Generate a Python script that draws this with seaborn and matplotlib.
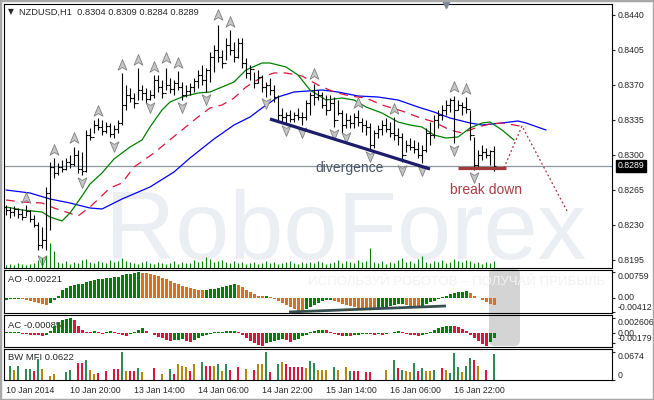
import numpy as np
import matplotlib
matplotlib.use('Agg')
import matplotlib.pyplot as plt
import seaborn as sns
from matplotlib.path import Path
from matplotlib.patches import FancyBboxPatch, Rectangle
from matplotlib.transforms import ScaledTranslation

sns.set_style('white')
plt.rcParams['font.family'] = ['Liberation Sans', 'DejaVu Sans']

# ---------------------------------------------------------------- data
# NZDUSD H1 bars
high = [.8250, .8248, .8249, .8247, .8246, .8250, .8245, .8240, .8233, .8228,
        .8268, .8293, .8297, .8292, .8295, .8297, .8300, .8308, .8305, .8303,
        .8325, .8327, .8335, .8337, .8335, .8333, .8332, .8330, .8335, .8382,
        .8370, .8367, .8362, .8387, .8370, .8367, .8365, .8380, .8380, .8375,
        .8387, .8377, .8375, .8384, .8373, .8370, .8372, .8377, .8385, .8390,
        .8387, .8403, .8410, .8430, .8405, .8417, .8425, .8413, .8417, .8417,
        .8397, .8390, .8383, .8385, .8380, .8373, .8377, .8370, .8360, .8347,
        .8343, .8345, .8343, .8347, .8343, .8355, .8363, .8371, .8365, .8363,
        .8360, .8360, .8358, .8355, .8345, .8342, .8340, .8342, .8345, .8337,
        .8335, .8332, .8325, .8330, .8335, .8337, .8333, .8338, .8327, .8322,
        .8315, .8317, .8315, .8313, .8310, .8327, .8333, .8340, .8345, .8350,
        .8355, .8357, .8359, .8355, .8353, .8358, .8345, .8318, .8305, .8310,
        .8307, .8305, .8309]
low = [.8240, .8237, .8239, .8237, .8235, .8239, .8233, .8228, .8205, .8207,
       .8205, .8225, .8277, .8280, .8283, .8285, .8287, .8289, .8282, .8280,
       .8283, .8315, .8322, .8325, .8320, .8322, .8318, .8317, .8322, .8330,
       .8345, .8353, .8347, .8355, .8355, .8352, .8355, .8357, .8363, .8357,
       .8365, .8362, .8360, .8365, .8355, .8358, .8360, .8363, .8367, .8370,
       .8363, .8373, .8383, .8393, .8387, .8395, .8400, .8393, .8397, .8387,
       .8377, .8375, .8367, .8372, .8363, .8358, .8360, .8353, .8335, .8333,
       .8331, .8333, .8333, .8335, .8330, .8335, .8340, .8350, .8355, .8347,
       .8340, .8345, .8328, .8340, .8322, .8327, .8327, .8327, .8329, .8323,
       .8320, .8305, .8307, .8317, .8320, .8323, .8318, .8315, .8310, .8293,
       .8303, .8305, .8302, .8297, .8292, .8303, .8310, .8317, .8327, .8335,
       .8340, .8343, .8312, .8345, .8340, .8342, .8315, .8285, .8288, .8295,
       .8297, .8290, .8284]
close = [.8245, .8243, .8246, .8241, .8238, .8244, .8236, .8230, .8210, .8215,
         .8262, .8288, .8282, .8288, .8286, .8293, .8291, .8300, .8286, .8284,
         .8320, .8318, .8330, .8328, .8324, .8329, .8321, .8326, .8332, .8350,
         .8360, .8357, .8352, .8365, .8362, .8356, .8360, .8375, .8368, .8362,
         .8370, .8366, .8372, .8368, .8360, .8364, .8368, .8374, .8380, .8375,
         .8385, .8398, .8405, .8398, .8392, .8410, .8405, .8398, .8412, .8392,
         .8382, .8386, .8372, .8378, .8368, .8370, .8365, .8358, .8340, .8338,
         .8340, .8336, .8340, .8338, .8338, .8352, .8360, .8358, .8360, .8350,
         .8345, .8352, .8335, .8342, .8330, .8335, .8332, .8338, .8333, .8330,
         .8328, .8310, .8322, .8326, .8330, .8326, .8322, .8320, .8318, .8300,
         .8310, .8308, .8306, .8300, .8305, .8322, .8320, .8335, .8340, .8345,
         .8350, .8355, .8345, .8350, .8348, .8346, .8320, .8290, .8300, .8303,
         .8300, .8304, .8289]
first_open = .8248

# tick volume (hundreds)
volume = [3, 4, 3, 5, 4, 3, 4, 5, 8, 10,
          12, 25, 17, 6, 5, 7, 4, 6, 5, 8,
          9, 6, 5, 7, 6, 5, 8, 6, 7, 10,
          7, 6, 5, 4, 6, 7, 5, 4, 6, 5,
          4, 5, 7, 4, 6, 5, 5, 8, 6, 7,
          11, 9, 6, 7, 8, 6, 5, 7, 5, 6,
          4, 5, 6, 4, 5, 7, 5, 6, 4, 5,
          6, 7, 5, 4, 6, 5, 6, 5, 7, 6,
          4, 5, 6, 8, 5, 7, 6, 5, 8, 6,
          7, 20, 6, 5, 7, 4, 6, 5, 8, 10,
          6, 7, 5, 9, 12, 6, 5, 7, 6, 8,
          5, 6, 9, 7, 6, 8, 7, 5, 6, 4,
          6, 5, 7]

# Alligator lines (bar index, price), shifted forward as on the chart
lips_idx = [0, 4, 9, 11, 14, 16, 19, 21, 24, 27, 31, 34, 36, 39, 41, 44, 48, 51, 54, 57, 60,
            64, 66, 70, 73, 76, 80, 84, 87, 90, 94, 98, 101, 104, 107, 110, 113, 116, 119, 121,
            124, 127]
lips_val = [.8248, .8245, .8243, .8238, .8234, .8242, .8259, .8271, .8282, .8296, .8308, .8315,
            .8328, .8345, .8353, .8358, .8362, .8363, .8368, .8373, .8385, .8392, .8392, .8388,
            .8380, .8365, .8355, .8357, .8355, .8348, .8342, .8333, .8330, .8328, .8320, .8317,
            .8318, .8327, .8332, .8333, .8325, .8315]
teeth_idx = [0, 4, 9, 12, 18, 21, 26, 29, 32, 37, 40, 44, 48, 51, 54, 57, 60, 64, 67, 70, 74,
             78, 82, 86, 90, 94, 99, 103, 107, 111, 114, 118, 121, 124, 130]
teeth_val = [.8255, .8253, .8252, .8247, .8239, .8248, .8267, .8272, .8288, .8302, .8312, .8325,
             .8338, .8347, .8350, .8357, .8368, .8378, .8382, .8382, .8379, .8370, .8363, .8359,
             .8357, .8350, .8344, .8338, .8333, .8325, .8322, .8328, .8331, .8332, .8328]
jaw_idx = [0, 6, 11, 16, 21, 24, 29, 36, 42, 46, 52, 57, 61, 64, 68, 72, 79, 83, 88, 93, 98,
           103, 107, 111, 116, 119, 124, 128, 130, 135]
jaw_val = [.8265, .8262, .8256, .8252, .8247, .8246, .8256, .8268, .8283, .8297, .8316, .8330,
           .8338, .8347, .8358, .8363, .8365, .8363, .8359, .8358, .8355, .8348, .8343, .8337,
           .8332, .8330, .8332, .8334, .8332, .8325]

# fractals
frac_up_idx = [5, 12, 17, 23, 29, 33, 37, 40, 43, 53, 56, 77, 88, 97, 112, 115]
frac_up_val = [.8257, .8305, .8317, .8344, .8390, .8395, .8388, .8397, .8392, .8440, .8433,
               .8381, .8352, .8346, .8368, .8366]
frac_dn_idx = [9, 19, 27, 36, 44, 50, 65, 70, 74, 82, 85, 91, 99, 104, 112, 117]
frac_dn_val = [.8195, .8273, .8309, .8348, .8348, .8356, .8352, .8325, .8323, .8321, .8318,
               .8299, .8285, .8285, .8305, .8278]
shift_idx = 110

# hand drawn objects
div_idx, div_val = [66, 106], [.8336, .8286]
brk_idx, brk_val = [113, 125], [.8287, .8287]
proj_idx, proj_val = [124.5, 129, 140.25], [.8287, .8329, .8244]
last_price = 0.8289
price_ticks = [0.8195, 0.8230, 0.8265, 0.8300, 0.8335, 0.8370, 0.8405, 0.8440]

# Awesome Oscillator (x1e-3)
ao_milli = [-0.60, -0.44, -0.37, -0.30, -0.44, -0.60, -0.89, -1.18, -1.62, -1.92,
            -2.07, -1.48, -0.59, 0.44, 2.21, 2.95, 3.40, 3.69, 3.99, 4.13,
            4.72, 5.02, 5.31, 5.46, 5.61, 5.76, 5.90, 6.05, 6.20, 6.64,
            6.94, 7.08, 7.23, 7.59, 7.38, 7.23, 6.94, 6.64, 6.35, 5.90,
            5.46, 5.02, 4.43, 3.99, 3.54, 3.10, 2.80, 2.51, 2.36, 2.21,
            2.36, 2.51, 2.66, 2.95, 3.25, 3.54, 3.84, 3.99, 3.69, 3.10,
            2.36, 1.62, 1.03, 0.59, 0.37, 0.44, 0.15, -0.44, -1.03, -1.62,
            -2.21, -2.80, -3.40, -3.90, -4.12, -3.40, -2.66, -2.07, -1.48, -1.03,
            -0.74, -0.59, -0.89, -1.33, -1.77, -2.21, -2.51, -2.80, -2.95, -3.10,
            -3.25, -3.40, -3.54, -3.25, -2.95, -2.66, -2.36, -2.07, -1.92, -1.77,
            -2.07, -2.36, -2.66, -2.80, -2.51, -1.92, -1.33, -0.89, -0.44, 0.15,
            0.59, 1.03, 1.33, 1.62, 1.77, 2.07, 1.48, 0.59, -0.15, -0.70,
            -1.30, -1.80, -2.21]
ao_line_idx, ao_line_val = [70.75, 110], [-0.00422, -0.00245]

# Accelerator Oscillator (x1e-3)
ac_milli = [0.10, 0.12, 0.15, 0.18, -0.10, -0.20, -0.30, -0.35, -0.40, -0.45,
            -0.30, 0.40, 1.20, 1.80, 2.20, 2.50, 2.61, 2.20, 1.30, 0.50,
            0.20, 0.10, 0.30, 0.20, -0.10, 0.10, 0.40, 0.20, -0.20, -0.40,
            -0.60, -0.20, 0.20, 0.50, 0.85, 0.40, 0.00, -0.40, -0.70, -0.90,
            -1.20, -1.40, -1.30, -1.20, -1.10, -1.40, -1.50, -1.20, -0.90, -0.60,
            -0.30, -0.10, 0.10, 0.15, 0.20, 0.30, 0.35, 0.40, 0.10, -0.40,
            -0.90, -1.40, -1.80, -2.10, -2.26, -1.80, -1.60, -1.40, -1.20, -1.10,
            -1.30, -1.50, -1.30, -1.00, -0.60, -0.30, 0.10, 0.35, 0.50, 0.58,
            0.45, 0.20, -0.10, -0.30, -0.50, -0.45, -0.50, -0.40, -0.30, -0.15,
            -0.10, -0.20, -0.30, -0.20, -0.30, -0.20, 0.00, 0.20, 0.30, 0.10,
            -0.10, -0.30, -0.40, -0.50, -0.35, -0.10, 0.20, 0.50, 0.80, 1.00,
            1.20, 1.27, 1.20, 1.00, 0.70, 0.40, -0.30, -0.80, -1.40, -1.90,
            -2.20, -1.60, -0.85]

# Bill Williams MFI and its colour class
mfi = [0.012, 0.034, 0.024, 0.034, 0.038, 0.026, 0.026, 0.022, 0.050, 0.026,
       0.043, 0.010, 0.014, 0.012, 0.019, 0.019, 0.024, 0.038, 0.041, 0.041,
       0.048, 0.024, 0.014, 0.017, 0.019, 0.022, 0.034, 0.026, 0.026, 0.0674,
       0.022, 0.022, 0.022, 0.029, 0.019, 0.026, 0.036, 0.029, 0.022, 0.014,
       0.036, 0.026, 0.014, 0.038, 0.034, 0.031, 0.022, 0.038, 0.031, 0.043,
       0.034, 0.034, 0.034, 0.038, 0.022, 0.038, 0.024, 0.038, 0.031, 0.043,
       0.026, 0.046, 0.024, 0.038, 0.038, 0.0674, 0.019, 0.029, 0.038, 0.043,
       0.038, 0.031, 0.031, 0.031, 0.031, 0.029, 0.046, 0.041, 0.024, 0.024,
       0.024, 0.024, 0.031, 0.024, 0.034, 0.031, 0.022, 0.022, 0.022, 0.043,
       0.019, 0.019, 0.007, 0.019, 0.024, 0.024, 0.036, 0.048, 0.029, 0.024,
       0.022, 0.019, 0.041, 0.022, 0.029, 0.022, 0.022, 0.024, 0.048, 0.029,
       0.024, 0.017, 0.065, 0.031, 0.019, 0.034, 0.053, 0.048, 0.034, 0.038,
       0.024, 0.034, 0.0622]
mfi_kind = list("ugbguggrgb" "ubbuuggurr" "gbbrururrg" "brrgbuurub" "ugrbbbrbug"
                "rrbgbgruru" "burbbgrugb" "rrrrrbggbb" "bugbubgrru" "rruuubugrg"
                "bbgrgbbgur" "bgggbggrbu" "rug")

time_idx = [0, 16, 32, 48, 64, 80, 96, 112]
time_labels = ['10 Jan 2014', '10 Jan 20:00', '13 Jan 14:00', '14 Jan 06:00',
               '14 Jan 22:00', '15 Jan 14:00', '16 Jan 06:00', '16 Jan 22:00']

n = len(close)
assert len(high) == n and len(low) == n and len(volume) == n
assert len(ao_milli) == n and len(ac_milli) == n and len(mfi) == n and len(mfi_kind) == n

# ---------------------------------------------------------------- figure
W, H = 654, 400
fig = plt.figure(figsize=(W / 100, H / 100), dpi=100)
fig.patch.set_facecolor('white')


def panel(top, bottom, left=4, right=612):
    return [left / W, 1 - bottom / H, (right - left) / W, (bottom - top) / H]


ax = fig.add_axes(panel(4, 268))
ax_ao = fig.add_axes(panel(270, 313))
ax_ac = fig.add_axes(panel(315, 347))
ax_mfi = fig.add_axes(panel(349, 380))
ax_ao.set_facecolor('none')
ax_ac.set_facecolor('none')

# grey rounded marker behind the two oscillators
fig.add_artist(FancyBboxPatch((4.89, 0.54), 0.31, 0.78,
                              boxstyle='round,pad=0,rounding_size=0.06',
                              transform=fig.dpi_scale_trans, fc='#d4d4d4', ec='none',
                              zorder=-1))

XMIN, XMAX = -0.5, 151.5
idx = np.arange(n)
fsz = 6.3

# ---------------------------------------------------------------- main panel
ax.text(105 / W, 1 - 259 / H, 'RoboForex', transform=fig.transFigure, fontsize=70,
        color='#ebeff3', va='baseline', zorder=0.5)

vax = ax.twinx()
vax.vlines(idx, 0, volume, color='#008000', lw=0.8)
vax.set_ylim(0, 262.5)
vax.set_yticks([])
for s in vax.spines.values():
    s.set_visible(False)

ax.axhline(last_price, color='#8a96a0', lw=0.9, zorder=2)

sns.lineplot(x=jaw_idx, y=jaw_val, ax=ax, color='#0000ff', lw=0.9, errorbar=None, zorder=3)
sns.lineplot(x=teeth_idx, y=teeth_val, ax=ax, color='#dc143c', lw=0.9, errorbar=None,
             linestyle=(0, (7, 5)), zorder=3)
sns.lineplot(x=lips_idx, y=lips_val, ax=ax, color='#008000', lw=0.9, errorbar=None, zorder=3)

opens = [first_open] + close[:-1]
ax.vlines(idx, low, high, color='black', lw=0.8, zorder=4)
ax.hlines(opens, idx - 0.45, idx, color='black', lw=0.8, zorder=4)
ax.hlines(close, idx, idx + 0.45, color='black', lw=0.8, zorder=4)

up_arrow = Path([(0, 1), (0.75, -0.8), (0, -0.35), (-0.75, -0.8), (0, 1)],
                [Path.MOVETO, Path.LINETO, Path.LINETO, Path.LINETO, Path.CLOSEPOLY])
dn_arrow = Path([(0, -1), (0.75, 0.8), (0, 0.35), (-0.75, 0.8), (0, -1)],
                [Path.MOVETO, Path.LINETO, Path.LINETO, Path.LINETO, Path.CLOSEPOLY])
ax.plot(frac_up_idx, frac_up_val, ls='none', marker=up_arrow, ms=8.5, mfc='#c6c6c6',
        mec='#808080', mew=0.6, zorder=5)
ax.plot(frac_dn_idx, frac_dn_val, ls='none', marker=dn_arrow, ms=8.5, mfc='#c6c6c6',
        mec='#808080', mew=0.6, zorder=5)

ax.plot(div_idx, div_val, color='#1c1c6b', lw=2.3, solid_capstyle='butt', zorder=6)
ax.plot(brk_idx, brk_val, color='#a33a3a', lw=2.3, solid_capstyle='butt', zorder=6)
ax.plot(proj_idx, proj_val, color='#a8323c', lw=0.9, ls=(0, (1.5, 2)), zorder=6)
ax.text(77.3, 0.8283, 'divergence', color='#4b5765', fontsize=10, va='baseline', zorder=7)
ax.text(111.0, 0.8261, 'break down', color='#ad3c45', fontsize=10, va='baseline', zorder=7)

ax.set_xlim(XMIN, XMAX)
ax.set_ylim(0.8187, 0.8451)
ax.plot([shift_idx], [0.8451], marker='v', ms=6, color='#7d8894', clip_on=False, zorder=8)
ax.set(xlabel='', ylabel='')
ax.set_xticks([])
ax.yaxis.tick_right()
ax.set_yticks(price_ticks)
ax.set_yticklabels(['%.4f' % p for p in price_ticks])
ax.annotate('%.4f' % last_price, xy=(1, last_price), xycoords=('axes fraction', 'data'),
            xytext=(4.2, 0), textcoords='offset points', ha='left', va='center',
            color='white', fontsize=fsz,
            bbox=dict(boxstyle='square,pad=0.18', fc='black', ec='black'))

fig.text(8 / W, 1 - 12 / H, '\u25bc', fontsize=5.5, family='DejaVu Sans', va='center')
fig.text(19 / W, 1 - 12 / H, 'NZDUSD,H1  0.8304 0.8309 0.8284 0.8289', fontsize=6.7,
         va='center')

# ---------------------------------------------------------------- AO
ao = np.array(ao_milli) / 1000
ao_col = ['#007f00' if i == 0 or ao[i] > ao[i - 1] else '#dd6f1f' for i in range(n)]
ax_ao.bar(idx, ao, width=0.75, color=ao_col, linewidth=0, zorder=2)
ax_ao.plot(ao_line_idx, ao_line_val, color='#35504f', lw=2.0, solid_capstyle='butt', zorder=3)
ax_ao.text(308 / W, 1 - 285 / H, 'ИСПОЛЬЗУЙ РОБОТОВ – ПОЛУЧАЙ ПРИБЫЛЬ',
           transform=fig.transFigure, fontsize=9.5, color='#f2f2f2', zorder=0.5)
ax_ao.text(8 / W, 1 - 279 / H, 'AO -0.00221', transform=fig.transFigure, fontsize=6.8,
           va='center', zorder=0.8)
ax_ao.set_xlim(XMIN, XMAX)
ax_ao.set_ylim(-0.00452, 0.00818)
ax_ao.set_xticks([])

# ---------------------------------------------------------------- AC
ac = np.array(ac_milli) / 1000
ac_col = ['#007f00' if i == 0 or ac[i] > ac[i - 1] else '#dc143c' for i in range(n)]
ax_ac.bar(idx, ac, width=0.75, color=ac_col, linewidth=0, zorder=2)
ax_ac.text(8 / W, 1 - 325 / H, 'AC -0.00085', transform=fig.transFigure, fontsize=6.8,
           va='center', zorder=0.8)
ax_ac.set_xlim(XMIN, XMAX)
ax_ac.set_ylim(-0.002432, 0.003127)
ax_ac.set_xticks([])

# ---------------------------------------------------------------- BW MFI
kind_col = {'g': '#2e8b57', 'b': '#b8860b', 'r': '#dc143c', 'u': '#0000ff'}
mfi_col = [kind_col[k] for k in mfi_kind]
mfi_w = [0.22 if k == 'u' else 0.7 for k in mfi_kind]
ax_mfi.bar(idx, mfi, width=mfi_w, color=mfi_col, linewidth=0, zorder=2)
ax_mfi.text(8 / W, 1 - 358 / H, 'BW MFI 0.0622', transform=fig.transFigure, fontsize=6.8,
            va='center', zorder=0.8)
ax_mfi.set_xlim(XMIN, XMAX)
ax_mfi.set_ylim(0, 0.0744)
ax_mfi.set_xticks(time_idx)
ax_mfi.set_xticklabels(time_labels, ha='left')
shift = ScaledTranslation(1.5 / 100, 0, fig.dpi_scale_trans)
for lab in ax_mfi.get_xticklabels():
    lab.set_transform(lab.get_transform() + shift)
ax_mfi.tick_params(axis='x', direction='out', length=3, width=0.8, pad=1.5, labelsize=6.3)

# ---------------------------------------------------------------- right scales
scales = [(ax_ao, [0.00759, 0, -0.00412], ['0.00759', '0.00', '-0.00412'],
           ['top', 'center', 'bottom']),
          (ax_ac, [0.002606, 0, -0.00179], ['0.002606', '0.00', '-0.00179'],
           ['top', 'center', 'bottom']),
          (ax_mfi, [0.0674, 0], ['0.0674', '0'], ['top', 'bottom'])]
for a, vals, labs, vas in scales:
    a.yaxis.tick_right()
    a.set_yticks(vals)
    a.set_yticklabels(labs)
    for t, va in zip(a.get_yticklabels(), vas):
        t.set_va(va)

for a in (ax, ax_ao, ax_ac, ax_mfi):
    a.tick_params(axis='y', direction='out', length=2.5, width=0.8, pad=1.5, labelsize=fsz)
    for s in a.spines.values():
        s.set_color('black')
        s.set_linewidth(0.8)

fig.add_artist(Rectangle((0, 0), 1, 1, transform=fig.transFigure, fill=False,
                         ec='#a8a8a8', lw=2.5, zorder=10))

fig.savefig('out.png', dpi=100)
